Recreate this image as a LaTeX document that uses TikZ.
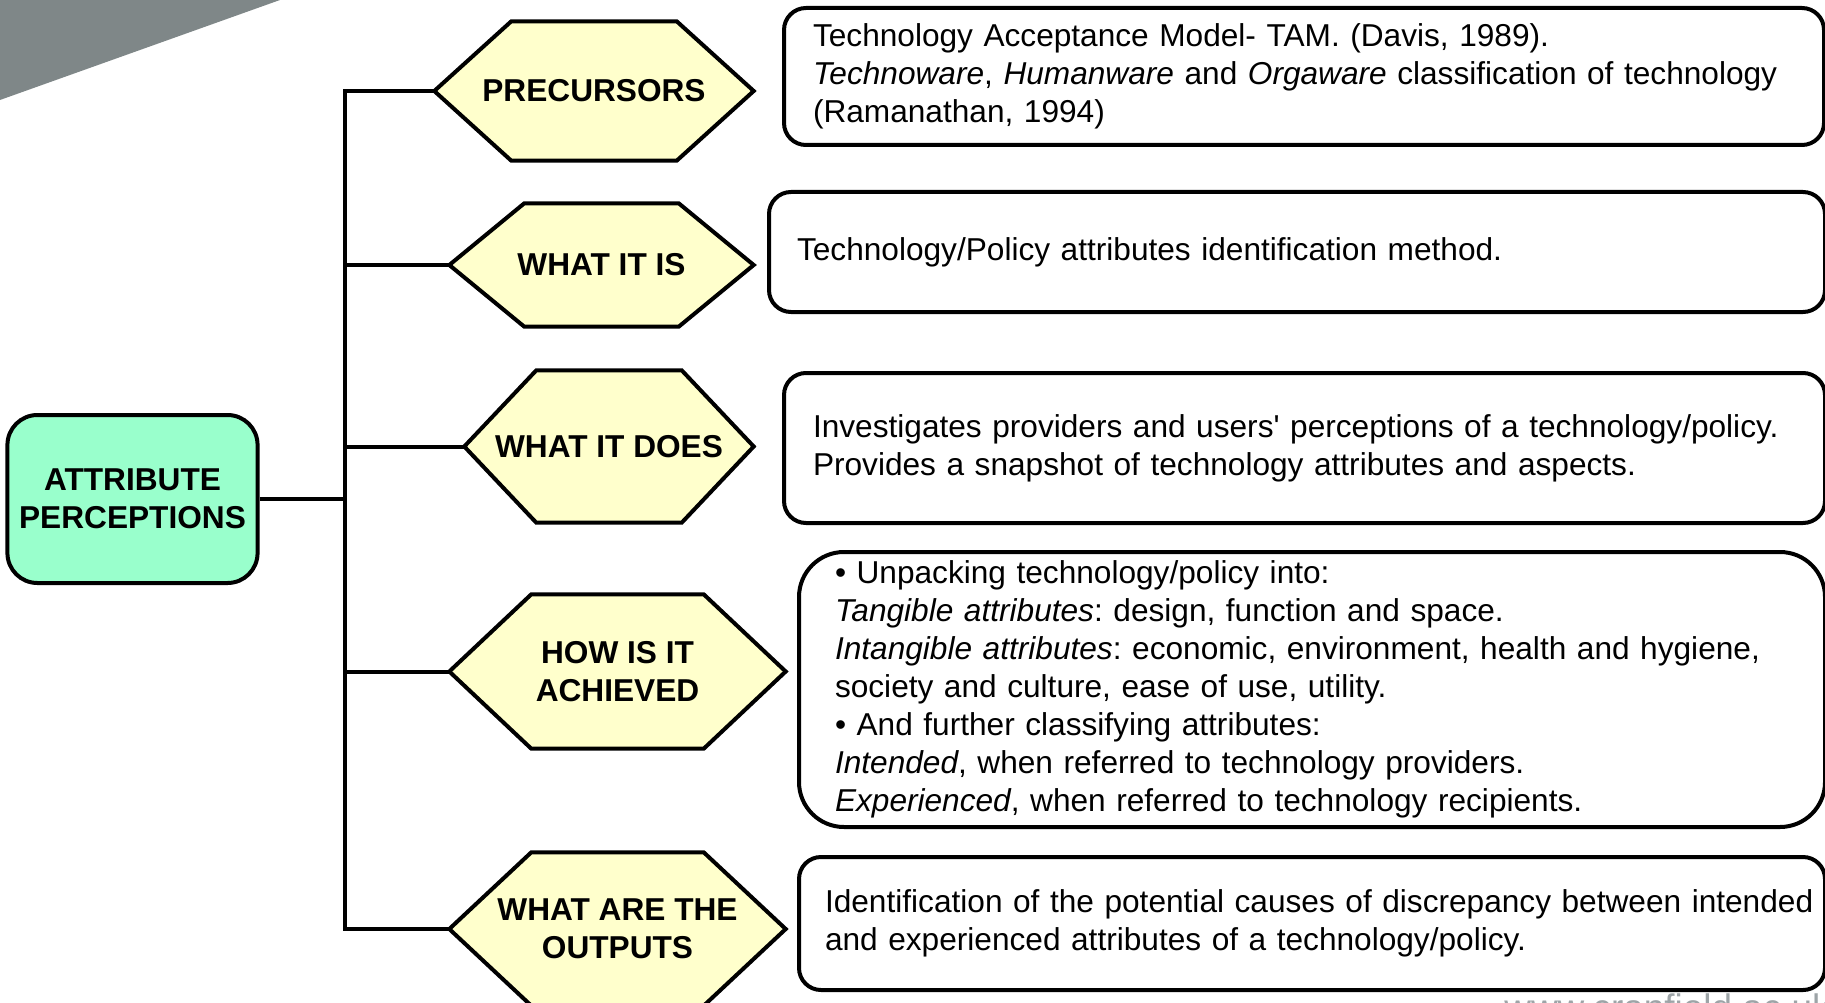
\documentclass[tikz,border=0pt]{standalone}
\usepackage{fontspec}
\setmainfont{Liberation Sans}
\usetikzlibrary{positioning}
\pgfdeclarelayer{background}
\pgfsetlayers{background,main}
\frenchspacing

\definecolor{mint}{HTML}{99FFCC}
\definecolor{cream}{HTML}{FFFFCC}
\definecolor{slate}{HTML}{7F8788}
\definecolor{webgrey}{HTML}{9DA4A7}

\tikzstyle{topic} = [rectangle, rounded corners=.3cm, minimum width=2.45cm, minimum height=1.68cm, align=center, draw=black, line width=.04cm, fill=mint, font=\bfseries\fontsize{9}{10.8}\selectfont]
\tikzstyle{question} = [rectangle, inner sep=0pt, align=center, font=\bfseries\fontsize{9}{10.8}\selectfont]
\tikzstyle{hexline} = [draw=black, line width=.04cm, fill=cream]
\tikzstyle{answer} = [rectangle, rounded corners=.22cm, anchor=north west, align=left, draw=black, line width=.04cm, fill=white, inner ysep=0pt, font=\fontsize{9}{10.8}\selectfont]
\tikzstyle{link} = [line width=.04cm]

\newcommand{\hexframe}[2]{\draw[hexline] (#1.west) -- ([xshift=#2]#1.north west) -- ([xshift=-#2]#1.north east) -- (#1.east) -- ([xshift=-#2]#1.south east) -- ([xshift=#2]#1.south west) -- cycle;}

\begin{document}
\begin{tikzpicture}
\useasboundingbox (0,0) rectangle (18.25,-10.02);
\fill[slate] (0,0) -- (2.8,0) -- (0,-1.0) -- cycle;

%Topic
\node (root) [topic] at (1.325,-4.99) {ATTRIBUTE\\PERCEPTIONS};
\coordinate (trunk) at (3.45,0);

%Questions
\node (H1) [question, minimum width=3.18cm, minimum height=1.38cm] at (5.94,-0.91) {PRECURSORS};
\node (H2) [question, minimum width=3.03cm, minimum height=1.22cm] at (6.015,-2.65) {WHAT IT IS};
\node (H3) [question, minimum width=2.88cm, minimum height=1.51cm] at (6.09,-4.465) {WHAT IT DOES};
\node (H4) [question, minimum width=3.35cm, minimum height=1.53cm] at (6.175,-6.715) {HOW IS IT\\ACHIEVED};
\node (H5) [question, minimum width=3.35cm, minimum height=1.52cm] at (6.175,-9.29) {WHAT ARE THE\\OUTPUTS};

\begin{pgfonlayer}{background}
\hexframe{H1}{.77cm}
\hexframe{H2}{.75cm}
\hexframe{H3}{.72cm}
\hexframe{H4}{.82cm}
\hexframe{H5}{.82cm}
\end{pgfonlayer}

%Answers
\node (B1) [answer, minimum height=1.37cm, inner xsep=.29cm, text width=9.82cm] at (7.82,-0.06) {Technology Acceptance Model- TAM. (Davis, 1989).\\\textit{Technoware}, \textit{Humanware} and \textit{Orgaware} classification of technology\\(Ramanathan, 1994)};
\node (B2) [answer, minimum height=1.20cm, inner xsep=.28cm, text width=10.0cm] at (7.67,-1.90) {Technology/Policy attributes identification method.};
\node (B3) [answer, minimum height=1.50cm, inner xsep=.29cm, text width=9.83cm] at (7.82,-3.71) {Investigates providers and users\textquotesingle{} perceptions of a technology/policy.\\Provides a snapshot of technology attributes and aspects.};
\node (B4) [answer, rounded corners=.45cm, minimum height=2.75cm, inner xsep=.36cm, text width=9.54cm] at (7.97,-5.50) {\textbullet{} Unpacking technology/policy into:\\\textit{Tangible attributes}: design, function and space.\\\textit{Intangible attributes}: economic, environment, health and hygiene,\\society and culture, ease of use, utility.\\\textbullet{} And further classifying attributes:\\\textit{Intended}, when referred to technology providers.\\\textit{Experienced}, when referred to technology recipients.};
\node (B5) [answer, minimum height=1.33cm, inner xsep=.1cm, text width=10.06cm] at (7.97,-8.55) {\hspace*{.16cm}Identification of the potential causes of discrepancy between intended\\\hspace*{.16cm}and experienced attributes of a technology/policy.};

\node (web) [anchor=base west, text=webgrey, font=\fontsize{10.5}{12}\selectfont] at (14.92,-10.20) {www.cranfield.ac.uk};

%Lines
\draw [link] (root.east) -- (root.east -| trunk);
\draw [link] (H1.west) -| (H5.west -| trunk) -- (H5.west);
\draw [link] (H2.west) -- (H2.west -| trunk);
\draw [link] (H3.west) -- (H3.west -| trunk);
\draw [link] (H4.west) -- (H4.west -| trunk);

\end{tikzpicture}
\end{document}
